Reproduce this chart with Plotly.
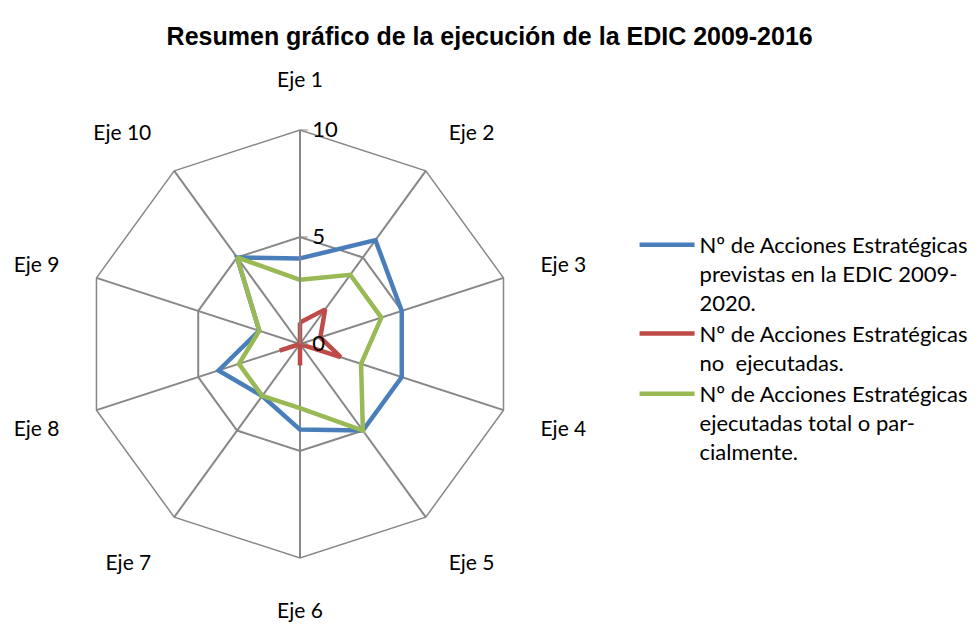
import plotly.graph_objects as go

EJES = ['Eje 1', 'Eje 2', 'Eje 3', 'Eje 4', 'Eje 5', 'Eje 6', 'Eje 7', 'Eje 8', 'Eje 9', 'Eje 10']
PREVISTAS = [4, 6, 5, 5, 5, 4, 3, 4, 2, 5]
NO_EJECUTADAS = [1, 2, 1, 2, 0, 1, 0, 1, 0, 0]
EJECUTADAS = [3, 4, 4, 3, 5, 3, 3, 3, 2, 5]

NAMES = [
    'Nº de Acciones Estratégicas<br>previstas en la EDIC 2009-<br>2020.',
    'Nº de Acciones Estratégicas<br>no  ejecutadas.',
    'Nº de Acciones Estratégicas<br>ejecutadas total o par-<br>cialmente.',
]
COLORS = ['#4A7EBB', '#BE4B48', '#98B954']
GRID = '#878787'
FONT = 'Lato, Carlito, Calibri, sans-serif'

fig = go.Figure()
for name, vals, color in zip(NAMES, [PREVISTAS, NO_EJECUTADAS, EJECUTADAS], COLORS):
    # close the loop
    fig.add_trace(go.Scatterpolar(
        r=vals + vals[:1],
        theta=EJES + EJES[:1],
        mode='lines',
        name=name,
        line=dict(color=color, width=4.5),
    ))

fig.update_layout(
    width=979, height=626,
    paper_bgcolor='white',
    plot_bgcolor='white',
    margin=dict(l=0, r=0, t=0, b=0),
    font=dict(family=FONT, size=21, color='#000000'),
    title=dict(
        text='<b>Resumen gráfico de la ejecución de la EDIC 2009-2016</b>',
        font=dict(family='Liberation Sans, Arial, sans-serif', size=25, color='#000000'),
        x=0.492, xanchor='center', y=1 - 28 / 626, yanchor='middle', yref='container',
    ),
    polar=dict(
        domain=dict(x=[0.0796, 0.5169], y=[0.1214, 0.8051]),
        gridshape='linear',
        bgcolor='white',
        radialaxis=dict(
            range=[0, 10], tickvals=[0, 5, 10], angle=90, tickangle=90,
            showline=True, linecolor=GRID, linewidth=1.6,
            gridcolor=GRID, gridwidth=1.5,
            ticks='outside', ticklen=7, tickcolor=GRID,
            tickfont=dict(size=22, family=FONT),
            side='clockwise',
        ),
        angularaxis=dict(
            direction='clockwise', rotation=90,
            showline=True, linecolor=GRID, linewidth=1.5,
            gridcolor=GRID, gridwidth=1.5,
            ticks='outside', ticklen=34, tickcolor='rgba(0,0,0,0)',
            tickfont=dict(size=21, family=FONT),
        ),
    ),
    legend=dict(
        x=0.640, y=1 - 216 / 626, xanchor='left', yanchor='top',
        font=dict(size=22, family=FONT),
        valign='top', itemwidth=55,
        bgcolor='rgba(0,0,0,0)',
    ),
    showlegend=True,
)

fig.write_html('out.html')
